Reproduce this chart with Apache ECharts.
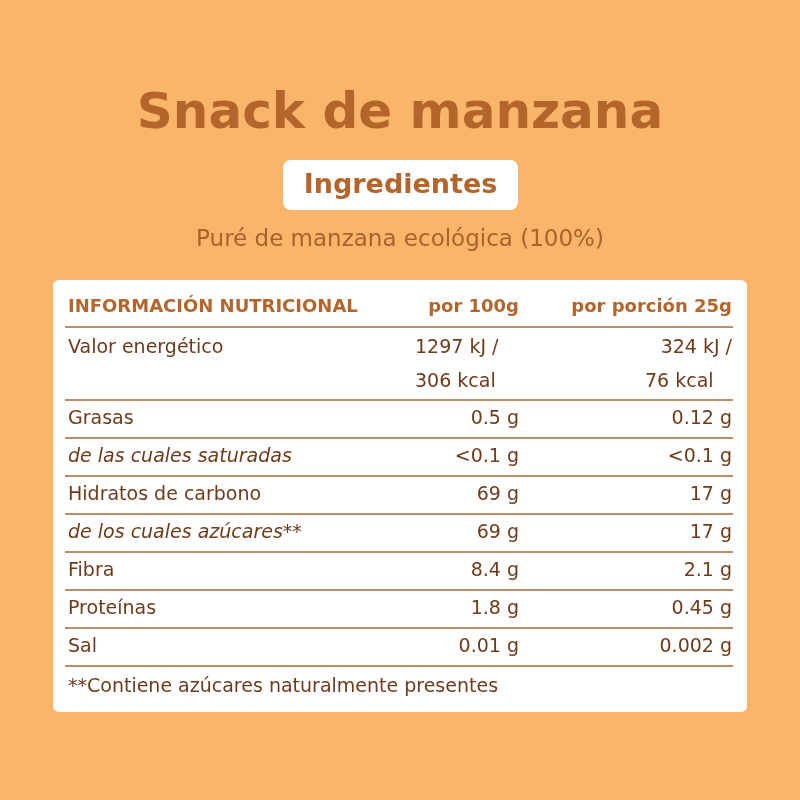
<!DOCTYPE html>
<html><head><meta charset="utf-8">
<script src="https://cdn.jsdelivr.net/npm/echarts@6/dist/echarts.min.js"></script>
<style>html,body{margin:0;padding:0;background:#F9B66B}#c{width:800px;height:800px}</style>
</head><body><div id="c"></div>
<script>
const title = "Snack de manzana";
const badge = "Ingredientes";
const ingredients = "Puré de manzana ecológica (100%)";
const headers = ["INFORMACIÓN NUTRICIONAL", "por 100g", "por porción 25g"];
const rowLabels = ["Valor energético", "Grasas", "de las cuales saturadas", "Hidratos de carbono", "de los cuales azúcares**", "Fibra", "Proteínas", "Sal"];
const per100 = [["1297 kJ /", "306 kcal"], "0.5 g", "<0.1 g", "69 g", "69 g", "8.4 g", "1.8 g", "0.01 g"];
const perPortion = [["324 kJ /", "76 kcal"], "0.12 g", "<0.1 g", "17 g", "17 g", "2.1 g", "0.45 g", "0.002 g"];
const italicRows = [false, false, true, false, true, false, false, false];
const footnote = "**Contiene azúcares naturalmente presentes";

const FONT = "'DejaVu Sans', sans-serif";
const brown = "#B4652B", text = "#6E3B1C", line = "#A8683A";
const g = [];
g.push({type:'text', x:400, y:115, style:{text:title, font:"bold 50px "+FONT, fill:brown, align:'center', verticalAlign:'middle'}});
g.push({type:'rect', shape:{x:283,y:160,width:235,height:50,r:8}, style:{fill:'#fff'}});
g.push({type:'text', x:400.5, y:186, style:{text:badge, font:"bold 27px "+FONT, fill:brown, align:'center', verticalAlign:'middle'}});
g.push({type:'text', x:400, y:240, style:{text:ingredients, font:"23px "+FONT, fill:"#A8622A", align:'center', verticalAlign:'middle'}});
g.push({type:'rect', shape:{x:53,y:280,width:694,height:432,r:6}, style:{fill:'#fff'}});
const xL = 68, xM = 519, xR = 732;
function t(x,y,s,opt){ g.push({type:'text', x, y, style:Object.assign({text:s, font:"19px "+FONT, fill:text, verticalAlign:'middle', align:'left'}, opt||{})}); }
function hl(y){ g.push({type:'line', shape:{x1:65,y1:y,x2:733,y2:y}, style:{stroke:line, lineWidth:1.3}}); }
t(xL,307,headers[0],{font:"bold 18px "+FONT, fill:brown});
t(xM,307,headers[1],{font:"bold 18px "+FONT, fill:brown, align:'right'});
t(xR,307,headers[2],{font:"bold 18px "+FONT, fill:brown, align:'right'});
hl(327);
let y = 327;
rowLabels.forEach((lab,i)=>{
  const f = (italicRows[i]?"italic ":"")+"19px "+FONT;
  if (Array.isArray(per100[i])) {
    t(xL,y+21,lab,{font:f});
    t(415,y+21,per100[i][0]); t(415,y+55,per100[i][1]);
    t(xR,y+21,perPortion[i][0],{align:'right'}); t(645,y+55,perPortion[i][1]);
    y += 73;
  } else {
    t(xL,y+19,lab,{font:f});
    t(xM,y+19,per100[i],{align:'right'});
    t(xR,y+19,perPortion[i],{align:'right'});
    y += 38;
  }
  hl(y);
});
t(xL,687,footnote);
const chart = echarts.init(document.getElementById('c'));
chart.setOption({backgroundColor:'#F9B66B', graphic:g});
</script></body></html>
